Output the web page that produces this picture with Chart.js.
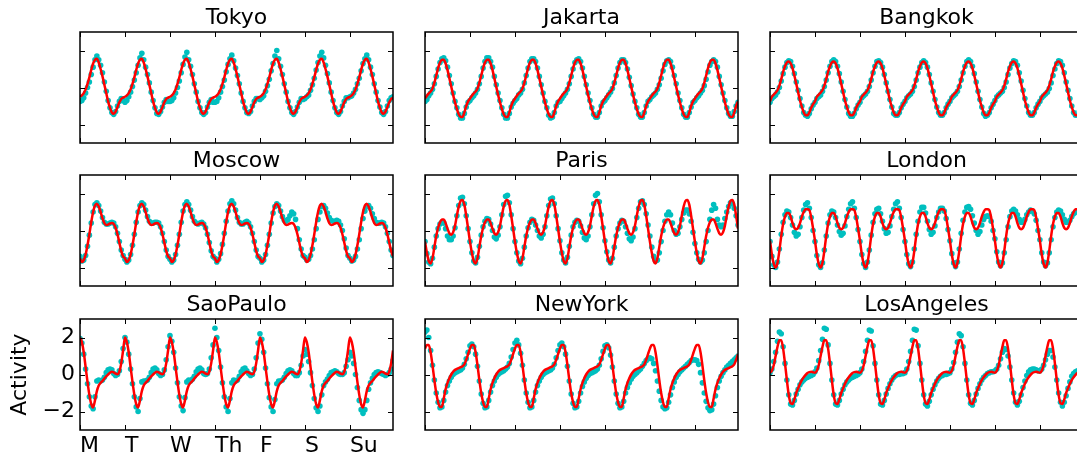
<!DOCTYPE html>
<html>
<head>
<meta charset="utf-8">
<script src="https://cdn.jsdelivr.net/npm/chart.js@4.4.1/dist/chart.umd.min.js"></script>
<style>
  html, body { margin: 0; padding: 0; background: #fff; overflow: hidden; }
  #wrap { position: relative; width: 1077px; height: 460px; overflow: hidden; }
  #wrap canvas { position: absolute; }
</style>
</head>
<body>
<div id="wrap"></div>
<script>
'use strict';

//--------------------DATA
let cityNames = ['Tokyo', 'Jakarta', 'Bangkok', 'Moscow', 'Paris', 'London', 'SaoPaulo', 'NewYork', 'LosAngeles'];
let dayTicks = [0, 24, 48, 72, 96, 120, 144];
let dayLabels = ['M', 'T', 'W', 'Th', 'F', 'S', 'Su'];
let yTicks = [-2, 0, 2];

// fitted daily curve (hour 0..23), same every day
let tokyoFit = [-0.5, -0.42, -0.3, -0.1, 0.2, 0.55, 0.95, 1.3, 1.5, 1.55, 1.35, 1.0, 0.6, 0.15, -0.3, -0.75, -1.1, -1.35, -1.42, -1.3, -1.05, -0.8, -0.62, -0.55];
let jakartaFit = [-0.6, -0.45, -0.32, -0.22, -0.05, 0.25, 0.65, 1.05, 1.35, 1.5, 1.5, 1.3, 0.95, 0.5, 0.05, -0.4, -0.8, -1.15, -1.45, -1.6, -1.6, -1.35, -1.0, -0.75];
let bangkokFit = [-0.75, -0.5, -0.38, -0.28, -0.15, 0.1, 0.45, 0.85, 1.15, 1.35, 1.4, 1.3, 1.05, 0.65, 0.2, -0.25, -0.7, -1.05, -1.35, -1.5, -1.5, -1.35, -1.1, -0.9];
let moscowFit = [-1.5, -1.7, -1.6, -1.3, -0.8, -0.2, 0.45, 1.0, 1.35, 1.45, 1.3, 1.0, 0.65, 0.4, 0.3, 0.32, 0.38, 0.4, 0.35, 0.15, -0.2, -0.65, -1.1, -1.4];
let parisFit = [-0.6, -1.2, -1.65, -1.78, -1.5, -0.9, -0.3, 0.15, 0.45, 0.6, 0.6, 0.4, 0.1, -0.15, -0.23, -0.1, 0.25, 0.8, 1.3, 1.6, 1.65, 1.4, 0.8, 0.1];
let londonFit = [-0.55, -1.3, -1.8, -2.0, -1.75, -1.1, -0.3, 0.35, 0.75, 0.95, 0.95, 0.75, 0.4, 0.15, 0.07, 0.15, 0.4, 0.75, 1.0, 1.15, 1.15, 1.1, 0.7, 0.1];
let saoPauloFit = [2.0, 1.75, 1.2, 0.4, -0.4, -1.1, -1.6, -1.78, -1.4, -0.9, -0.6, -0.45, -0.35, -0.22, -0.1, 0.0, 0.1, 0.15, 0.12, 0.05, 0.02, 0.15, 0.6, 1.3];
let newYorkFit = [1.4, 1.6, 1.6, 1.2, 0.5, -0.3, -1.0, -1.5, -1.75, -1.75, -1.3, -0.8, -0.45, -0.2, 0.0, 0.15, 0.25, 0.3, 0.35, 0.4, 0.45, 0.55, 0.8, 1.1];
let losAngelesFit = [0.1, 0.2, 0.5, 1.0, 1.5, 1.85, 1.85, 1.4, 0.6, -0.3, -1.1, -1.55, -1.6, -1.35, -1.0, -0.75, -0.5, -0.3, -0.15, -0.02, 0.08, 0.13, 0.15, 0.12];

// hourly observations, Monday 00h .. Sunday 23h
let tokyoObs = [
  -0.75, -0.7, -0.55, -0.3, 0.0, 0.3, 0.7, 1.1, 1.5, 1.7, 1.5, 1.2, 0.8, 0.3, -0.2, -0.7, -1.1, -1.35, -1.45, -1.3, -1.0, -0.75, -0.6, -0.7,
  -0.8, -0.7, -0.5, -0.25, 0.05, 0.4, 0.8, 1.2, 1.6, 1.85, 1.5, 1.1, 0.7, 0.25, -0.25, -0.7, -1.1, -1.4, -1.45, -1.3, -1.05, -0.8, -0.65, -0.75,
  -0.75, -0.7, -0.55, -0.3, 0.0, 0.35, 0.8, 1.25, 1.65, 1.9, 1.5, 1.15, 0.7, 0.2, -0.25, -0.75, -1.1, -1.35, -1.45, -1.35, -1.05, -0.8, -0.65, -0.8,
  -0.8, -0.75, -0.55, -0.25, 0.05, 0.4, 0.85, 1.25, 1.55, 1.75, 1.45, 1.05, 0.65, 0.2, -0.3, -0.75, -1.1, -1.35, -1.4, -1.3, -1.0, -0.75, -0.6, -0.6,
  -0.65, -0.55, -0.45, -0.2, 0.1, 0.45, 0.9, 1.3, 1.7, 2.0, 1.55, 1.15, 0.7, 0.2, -0.25, -0.75, -1.1, -1.35, -1.45, -1.3, -1.05, -0.8, -0.6, -0.65,
  -0.6, -0.5, -0.4, -0.15, 0.15, 0.5, 0.95, 1.35, 1.7, 1.9, 1.6, 1.2, 0.75, 0.25, -0.25, -0.7, -1.1, -1.35, -1.45, -1.3, -1.0, -0.75, -0.55, -0.55,
  -0.5, -0.45, -0.3, -0.1, 0.2, 0.5, 0.9, 1.3, 1.55, 1.75, 1.5, 1.1, 0.7, 0.2, -0.25, -0.7, -1.05, -1.35, -1.45, -1.3, -1.0, -0.7, -0.55, -0.5
];
let jakartaObs = [
  -0.75, -0.65, -0.45, -0.3, -0.1, 0.2, 0.6, 1.0, 1.35, 1.55, 1.6, 1.45, 1.1, 0.65, 0.2, -0.3, -0.75, -1.1, -1.45, -1.65, -1.65, -1.4, -1.05, -0.8,
  -0.7, -0.55, -0.45, -0.3, -0.1, 0.2, 0.6, 1.05, 1.4, 1.6, 1.6, 1.4, 1.1, 0.6, 0.15, -0.3, -0.7, -1.1, -1.45, -1.65, -1.65, -1.4, -1.05, -0.85,
  -0.7, -0.6, -0.4, -0.3, -0.1, 0.25, 0.65, 1.05, 1.4, 1.55, 1.55, 1.4, 1.05, 0.6, 0.15, -0.3, -0.75, -1.1, -1.5, -1.65, -1.6, -1.35, -1.0, -0.8,
  -0.75, -0.6, -0.45, -0.3, -0.1, 0.2, 0.6, 1.0, 1.35, 1.5, 1.55, 1.4, 1.05, 0.6, 0.15, -0.3, -0.7, -1.1, -1.45, -1.6, -1.6, -1.35, -1.0, -0.8,
  -0.7, -0.55, -0.4, -0.25, -0.05, 0.25, 0.65, 1.05, 1.35, 1.5, 1.5, 1.35, 1.0, 0.55, 0.1, -0.35, -0.75, -1.1, -1.45, -1.6, -1.6, -1.35, -1.0, -0.75,
  -0.65, -0.5, -0.4, -0.3, -0.1, 0.15, 0.5, 0.9, 1.25, 1.45, 1.5, 1.4, 1.1, 0.65, 0.2, -0.3, -0.7, -1.1, -1.45, -1.6, -1.6, -1.35, -1.05, -0.8,
  -0.7, -0.55, -0.45, -0.3, -0.15, 0.1, 0.45, 0.85, 1.2, 1.4, 1.5, 1.4, 1.1, 0.6, 0.15, -0.3, -0.7, -1.1, -1.4, -1.55, -1.55, -1.3, -1.0, -0.8
];
let bangkokObs = [
  -0.8, -0.6, -0.5, -0.4, -0.25, 0.0, 0.35, 0.75, 1.1, 1.35, 1.45, 1.4, 1.15, 0.75, 0.3, -0.15, -0.6, -1.0, -1.35, -1.5, -1.55, -1.4, -1.15, -0.95,
  -0.8, -0.6, -0.5, -0.4, -0.2, 0.05, 0.4, 0.8, 1.15, 1.4, 1.5, 1.4, 1.15, 0.75, 0.3, -0.2, -0.65, -1.05, -1.4, -1.55, -1.55, -1.4, -1.15, -0.95,
  -0.8, -0.55, -0.45, -0.35, -0.2, 0.05, 0.4, 0.8, 1.15, 1.4, 1.45, 1.35, 1.1, 0.7, 0.25, -0.2, -0.65, -1.05, -1.4, -1.5, -1.5, -1.35, -1.1, -0.9,
  -0.75, -0.55, -0.45, -0.35, -0.2, 0.05, 0.4, 0.8, 1.1, 1.35, 1.45, 1.35, 1.1, 0.7, 0.25, -0.2, -0.65, -1.05, -1.35, -1.5, -1.5, -1.35, -1.1, -0.9,
  -0.75, -0.55, -0.45, -0.35, -0.2, 0.05, 0.4, 0.8, 1.15, 1.4, 1.5, 1.4, 1.15, 0.75, 0.3, -0.2, -0.65, -1.05, -1.4, -1.55, -1.5, -1.35, -1.1, -0.9,
  -0.7, -0.5, -0.4, -0.3, -0.2, 0.0, 0.3, 0.7, 1.05, 1.3, 1.45, 1.4, 1.2, 0.8, 0.35, -0.15, -0.6, -1.0, -1.35, -1.5, -1.5, -1.35, -1.1, -0.9,
  -0.75, -0.55, -0.45, -0.35, -0.25, -0.05, 0.25, 0.65, 1.0, 1.3, 1.45, 1.4, 1.2, 0.8, 0.3, -0.15, -0.6, -1.0, -1.35, -1.5, -1.5, -1.3, -1.05, -0.85
];
let moscowObs = [
  -1.4, -1.65, -1.6, -1.35, -0.85, -0.25, 0.4, 1.0, 1.4, 1.5, 1.35, 1.05, 0.7, 0.45, 0.35, 0.35, 0.4, 0.45, 0.4, 0.2, -0.15, -0.6, -1.05, -1.35,
  -1.55, -1.7, -1.6, -1.3, -0.8, -0.2, 0.45, 1.0, 1.35, 1.5, 1.4, 1.1, 0.75, 0.5, 0.4, 0.4, 0.45, 0.45, 0.4, 0.2, -0.15, -0.6, -1.05, -1.4,
  -1.55, -1.7, -1.6, -1.3, -0.8, -0.2, 0.45, 1.05, 1.4, 1.55, 1.4, 1.1, 0.75, 0.5, 0.4, 0.35, 0.4, 0.45, 0.35, 0.15, -0.2, -0.65, -1.1, -1.4,
  -1.5, -1.7, -1.55, -1.25, -0.75, -0.15, 0.5, 1.05, 1.45, 1.6, 1.45, 1.1, 0.7, 0.45, 0.35, 0.35, 0.45, 0.5, 0.4, 0.2, -0.15, -0.6, -1.05, -1.4,
  -1.5, -1.7, -1.6, -1.3, -0.8, -0.2, 0.4, 0.95, 1.3, 1.45, 1.35, 1.05, 0.75, 0.55, 0.5, 0.6, 0.8, 1.0, 0.9, 0.6, 0.1, -0.5, -1.0, -1.35,
  -1.45, -1.6, -1.55, -1.35, -1.0, -0.5, 0.1, 0.6, 1.0, 1.3, 1.35, 1.2, 0.95, 0.7, 0.55, 0.5, 0.5, 0.55, 0.5, 0.3, 0.0, -0.45, -0.95, -1.35,
  -1.5, -1.65, -1.6, -1.4, -1.0, -0.5, 0.1, 0.65, 1.05, 1.3, 1.35, 1.2, 0.9, 0.65, 0.45, 0.4, 0.4, 0.45, 0.4, 0.2, -0.15, -0.6, -1.05, -1.35
];
let parisObs = [
  -0.6, -1.25, -1.7, -1.8, -1.5, -0.9, -0.3, 0.1, 0.35, 0.45, 0.4, 0.1, -0.3, -0.5, -0.5, -0.3, 0.15, 0.8, 1.35, 1.75, 1.8, 1.45, 0.8, 0.1,
  -0.6, -1.2, -1.65, -1.75, -1.45, -0.85, -0.25, 0.2, 0.5, 0.65, 0.6, 0.35, 0.0, -0.35, -0.45, -0.25, 0.2, 0.85, 1.4, 1.85, 1.9, 1.5, 0.85, 0.1,
  -0.6, -1.2, -1.65, -1.8, -1.5, -0.9, -0.3, 0.15, 0.45, 0.6, 0.55, 0.3, 0.0, -0.3, -0.4, -0.2, 0.2, 0.8, 1.35, 1.7, 1.75, 1.45, 0.8, 0.1,
  -0.55, -1.2, -1.6, -1.75, -1.45, -0.85, -0.25, 0.2, 0.45, 0.55, 0.5, 0.25, -0.1, -0.4, -0.5, -0.3, 0.2, 0.85, 1.45, 1.9, 2.0, 1.55, 0.85, 0.15,
  -0.55, -1.15, -1.6, -1.75, -1.5, -0.9, -0.3, 0.1, 0.4, 0.55, 0.5, 0.2, -0.15, -0.45, -0.55, -0.35, 0.1, 0.7, 1.2, 1.55, 1.6, 1.4, 0.9, 0.3,
  -0.3, -0.9, -1.4, -1.65, -1.6, -1.2, -0.6, 0.0, 0.5, 0.85, 1.0, 0.85, 0.4, 0.0, -0.2, -0.15, 0.2, 0.6, 0.95, 1.1, 1.1, 0.9, 0.5, -0.1,
  -0.7, -1.2, -1.55, -1.7, -1.6, -1.2, -0.6, 0.0, 0.6, 1.1, 1.4, 1.2, 0.6, 0.3, 0.2, 0.3, 0.65, 1.0, 1.3, 1.5, 1.45, 1.2, 0.8, 0.3
];
let londonObs = [
  -0.6, -1.4, -1.85, -2.0, -1.7, -1.0, -0.2, 0.45, 0.85, 1.05, 1.0, 0.7, 0.3, -0.1, -0.3, -0.2, 0.2, 0.7, 1.1, 1.4, 1.5, 1.2, 0.7, 0.0,
  -0.6, -1.35, -1.85, -2.0, -1.75, -1.05, -0.3, 0.4, 0.85, 1.05, 1.0, 0.7, 0.3, -0.05, -0.25, -0.15, 0.25, 0.75, 1.15, 1.45, 1.55, 1.2, 0.7, 0.05,
  -0.6, -1.3, -1.8, -2.0, -1.7, -1.05, -0.25, 0.45, 0.9, 1.15, 1.2, 0.9, 0.5, 0.1, -0.15, -0.1, 0.25, 0.75, 1.15, 1.45, 1.55, 1.2, 0.7, 0.05,
  -0.6, -1.3, -1.8, -1.95, -1.7, -1.0, -0.2, 0.5, 1.0, 1.25, 1.25, 0.95, 0.5, 0.05, -0.2, -0.1, 0.25, 0.7, 1.0, 1.2, 1.2, 1.05, 0.65, 0.05,
  -0.55, -1.25, -1.75, -1.95, -1.7, -1.0, -0.15, 0.55, 1.0, 1.25, 1.3, 1.15, 0.8, 0.4, 0.0, -0.2, -0.05, 0.3, 0.6, 0.75, 0.8, 0.75, 0.5, 0.0,
  -0.45, -1.15, -1.7, -1.9, -1.75, -1.2, -0.5, 0.2, 0.75, 1.05, 1.15, 1.05, 0.85, 0.6, 0.45, 0.45, 0.6, 0.85, 1.0, 1.1, 1.05, 0.9, 0.55, 0.0,
  -0.5, -1.2, -1.7, -1.9, -1.75, -1.2, -0.5, 0.2, 0.7, 1.0, 1.1, 1.05, 0.85, 0.6, 0.45, 0.45, 0.55, 0.75, 0.9, 1.0, 1.0, 0.9, 0.6, 0.1
];
let saoPauloObs = [
  1.95, 1.7, 1.1, 0.3, -0.5, -1.2, -1.7, -1.85, -1.2, -0.35, -0.3, -0.35, -0.3, -0.15, 0.1, 0.25, 0.3, 0.25, 0.05, -0.05, 0.0, 0.2, 0.7, 1.4,
  2.0, 1.75, 1.1, 0.3, -0.5, -1.2, -1.75, -2.0, -1.3, -0.4, -0.35, -0.35, -0.3, -0.15, 0.1, 0.3, 0.35, 0.25, 0.05, -0.05, 0.0, 0.25, 0.8, 1.5,
  2.1, 1.8, 1.2, 0.35, -0.45, -1.2, -1.7, -1.95, -1.25, -0.4, -0.3, -0.35, -0.25, -0.1, 0.15, 0.3, 0.35, 0.25, 0.05, 0.0, 0.05, 0.3, 0.9, 1.6,
  2.5, 2.0, 1.3, 0.4, -0.45, -1.2, -1.75, -2.0, -1.3, -0.45, -0.3, -0.35, -0.3, -0.1, 0.15, 0.3, 0.35, 0.2, 0.05, -0.05, 0.0, 0.3, 0.9, 1.7,
  2.2, 1.9, 1.2, 0.35, -0.5, -1.25, -1.75, -2.0, -1.35, -0.5, -0.35, -0.35, -0.3, -0.15, 0.05, 0.2, 0.25, 0.2, 0.05, -0.05, -0.05, 0.1, 0.5, 1.0,
  1.35, 1.1, 0.7, 0.1, -0.6, -1.3, -1.8, -2.0, -1.7, -1.1, -0.6, -0.4, -0.25, -0.05, 0.1, 0.15, 0.2, 0.15, 0.05, 0.0, 0.0, 0.1, 0.45, 0.8,
  1.2, 1.0, 0.6, 0.0, -0.7, -1.4, -1.9, -2.1, -1.9, -1.4, -0.8, -0.45, -0.2, 0.0, 0.1, 0.15, 0.1, 0.05, 0.0, -0.05, 0.0, 0.1, 0.3, 0.75
];
let newYorkObs = [
  2.3, 2.4, 2.0, 1.3, 0.5, -0.3, -1.0, -1.5, -1.8, -1.75, -1.4, -0.95, -0.6, -0.35, -0.15, 0.0, 0.1, 0.15, 0.2, 0.25, 0.35, 0.55, 0.85, 1.2,
  1.55, 1.65, 1.5, 1.1, 0.45, -0.35, -1.05, -1.55, -1.8, -1.75, -1.4, -0.95, -0.6, -0.35, -0.15, 0.0, 0.1, 0.15, 0.2, 0.3, 0.4, 0.6, 0.95, 1.35,
  1.7, 1.85, 1.6, 1.15, 0.5, -0.3, -1.0, -1.5, -1.8, -1.75, -1.4, -0.95, -0.6, -0.35, -0.15, 0.0, 0.1, 0.15, 0.2, 0.25, 0.35, 0.55, 0.9, 1.3,
  1.6, 1.7, 1.5, 1.1, 0.45, -0.35, -1.05, -1.55, -1.8, -1.75, -1.45, -1.0, -0.65, -0.4, -0.2, -0.05, 0.05, 0.1, 0.15, 0.2, 0.3, 0.5, 0.85, 1.25,
  1.55, 1.6, 1.45, 1.05, 0.4, -0.35, -1.05, -1.55, -1.8, -1.75, -1.45, -1.0, -0.7, -0.45, -0.25, -0.1, 0.0, 0.1, 0.2, 0.3, 0.45, 0.6, 0.75, 0.85,
  0.9, 0.85, 0.6, 0.2, -0.35, -0.9, -1.4, -1.75, -1.85, -1.8, -1.5, -1.1, -0.7, -0.4, -0.15, 0.0, 0.15, 0.25, 0.35, 0.45, 0.55, 0.65, 0.75, 0.8,
  0.8, 0.75, 0.55, 0.1, -0.45, -1.0, -1.45, -1.8, -1.95, -1.9, -1.6, -1.15, -0.7, -0.35, -0.1, 0.1, 0.25, 0.4, 0.5, 0.6, 0.7, 0.8, 0.9, 1.0
];
let losAngelesObs = [
  0.1, 0.3, 0.7, 1.2, 1.8, 2.3, 2.2, 1.5, 0.6, -0.3, -1.1, -1.6, -1.65, -1.4, -1.05, -0.8, -0.55, -0.4, -0.3, -0.2, -0.15, -0.1, -0.05, 0.0,
  0.15, 0.35, 0.75, 1.3, 1.9, 2.5, 2.45, 1.6, 0.6, -0.3, -1.1, -1.6, -1.65, -1.4, -1.05, -0.8, -0.55, -0.4, -0.3, -0.2, -0.15, -0.1, -0.05, 0.0,
  0.1, 0.3, 0.7, 1.25, 1.85, 2.4, 2.35, 1.55, 0.6, -0.3, -1.1, -1.6, -1.65, -1.4, -1.05, -0.75, -0.5, -0.3, -0.15, -0.05, 0.0, 0.0, 0.05, 0.05,
  0.1, 0.3, 0.7, 1.25, 1.85, 2.45, 2.4, 1.55, 0.6, -0.3, -1.1, -1.6, -1.7, -1.45, -1.1, -0.8, -0.55, -0.35, -0.2, -0.1, -0.05, 0.0, 0.0, 0.05,
  0.1, 0.3, 0.65, 1.2, 1.75, 2.2, 2.1, 1.5, 0.6, -0.3, -1.1, -1.55, -1.65, -1.4, -1.05, -0.75, -0.5, -0.3, -0.15, -0.05, 0.05, 0.1, 0.15, 0.15,
  0.2, 0.3, 0.5, 0.85, 1.2, 1.4, 1.35, 1.0, 0.4, -0.3, -1.0, -1.5, -1.65, -1.45, -1.1, -0.7, -0.35, -0.05, 0.15, 0.25, 0.3, 0.3, 0.25, 0.2,
  0.2, 0.3, 0.5, 0.8, 1.1, 1.3, 1.3, 0.95, 0.4, -0.3, -1.0, -1.5, -1.7, -1.5, -1.15, -0.75, -0.4, -0.1, 0.05, 0.15, 0.2, 0.2, 0.2, 0.2
];

let fitLines = [tokyoFit, jakartaFit, bangkokFit, moscowFit, parisFit, londonFit, saoPauloFit, newYorkFit, losAngelesFit];
let obsDots = [tokyoObs, jakartaObs, bangkokObs, moscowObs, parisObs, londonObs, saoPauloObs, newYorkObs, losAngelesObs];

//--------------------LAYOUT
let colLeft = [80, 425, 770];
let rowTop = [32, 175, 319];
let plotW = 313;
let plotH = 111;
let padL = 80;
let padR = 80;
let padT = 34;
let padB = 34;
let tickLen = 5;

Chart.defaults.font.family = '"DejaVu Sans", sans-serif';
Chart.defaults.font.size = 22;
Chart.defaults.color = '#000';

//--------------------HELPERS
function weekOfFit(profile) {
  let pts = [];
  for (let d = 0; d < 7; d++) {
    for (let h = 0; h < 24; h++) {
      pts.push({ x: d * 24 + h, y: profile[h] });
    }
  }
  return pts;
}

function hourlyPoints(values) {
  return values.map((v, i) => ({ x: i, y: v }));
}

// frame, inward ticks on all four sides, and the panel title
let panelFrame = {
  id: 'panelFrame',
  afterDatasetsDraw(chart, args, opts) {
    let ctx = chart.ctx;
    let a = chart.chartArea;
    let xs = chart.scales.x;
    let ys = chart.scales.y;
    ctx.save();
    ctx.strokeStyle = '#000';
    ctx.lineWidth = 1;
    ctx.beginPath();
    dayTicks.forEach(v => {
      let px = Math.round(xs.getPixelForValue(v)) + 0.5;
      ctx.moveTo(px, a.top);
      ctx.lineTo(px, a.top + tickLen);
      ctx.moveTo(px, a.bottom);
      ctx.lineTo(px, a.bottom - tickLen);
    });
    yTicks.forEach(v => {
      let py = Math.round(ys.getPixelForValue(v)) + 0.5;
      ctx.moveTo(a.left, py);
      ctx.lineTo(a.left + tickLen, py);
      ctx.moveTo(a.right, py);
      ctx.lineTo(a.right - tickLen, py);
    });
    ctx.stroke();
    ctx.lineWidth = 1.5;
    ctx.strokeRect(a.left, a.top, a.right - a.left, a.bottom - a.top);

    ctx.font = '22px "DejaVu Sans", sans-serif';
    ctx.fillStyle = '#000';
    ctx.textAlign = 'center';
    ctx.textBaseline = 'alphabetic';
    ctx.fillText(opts.title, (a.left + a.right) / 2, a.top - 8.5);
    ctx.restore();
  }
};

//--------------------CHARTS
let wrap = document.getElementById('wrap');

cityNames.forEach((name, i) => {
  let row = Math.floor(i / 3);
  let col = i % 3;
  let labelled = (i === 6);

  let canvas = document.createElement('canvas');
  canvas.width = plotW + padL + padR;
  canvas.height = plotH + padT + padB;
  canvas.style.left = (colLeft[col] - padL) + 'px';
  canvas.style.top = (rowTop[row] - padT) + 'px';
  wrap.appendChild(canvas);

  let xScale = {
    type: 'linear',
    min: 0,
    max: 167,
    display: labelled,
    grid: { display: false, drawTicks: false },
    border: { display: false },
    afterBuildTicks: s => { s.ticks = dayTicks.map(v => ({ value: v })); },
    ticks: {
      autoSkip: false,
      maxRotation: 0,
      align: 'start',
      padding: 3,
      font: { size: 22 },
      callback: v => dayLabels[dayTicks.indexOf(v)]
    }
  };
  let yScale = {
    type: 'linear',
    min: -3,
    max: 3,
    display: labelled,
    grid: { display: false, drawTicks: false },
    border: { display: false },
    afterBuildTicks: s => { s.ticks = yTicks.map(v => ({ value: v })); },
    title: {
      display: true,
      text: 'Activity',
      font: { size: 22 },
      padding: { top: 7, bottom: 0 }
    },
    ticks: {
      padding: 5,
      font: { size: 22 },
      callback: v => (v < 0 ? '\u2212' + (-v) : '' + v)
    }
  };
  if (labelled) {
    xScale.afterFit = s => { s.height = padB; };
    yScale.afterFit = s => { s.width = padL; };
  }

  new Chart(canvas, {
    type: 'scatter',
    data: {
      datasets: [
        {
          label: name + ' fit',
          data: weekOfFit(fitLines[i]),
          showLine: true,
          borderColor: '#ff0000',
          borderWidth: 2.5,
          pointRadius: 0,
          cubicInterpolationMode: 'monotone',
          clip: 0,
          order: 0
        },
        {
          label: name,
          data: hourlyPoints(obsDots[i]),
          showLine: false,
          pointRadius: 2.8,
          pointBorderWidth: 0,
          backgroundColor: '#00bfbf',
          borderColor: '#00bfbf',
          clip: 0,
          order: 1
        }
      ]
    },
    options: {
      responsive: false,
      animation: false,
      events: [],
      layout: {
        padding: labelled
          ? { left: 0, right: padR, top: padT, bottom: 0 }
          : { left: padL, right: padR, top: padT, bottom: padB }
      },
      scales: { x: xScale, y: yScale },
      plugins: {
        legend: { display: false },
        tooltip: { enabled: false },
        panelFrame: { title: name }
      }
    },
    plugins: [panelFrame]
  });
});
</script>
</body>
</html>
